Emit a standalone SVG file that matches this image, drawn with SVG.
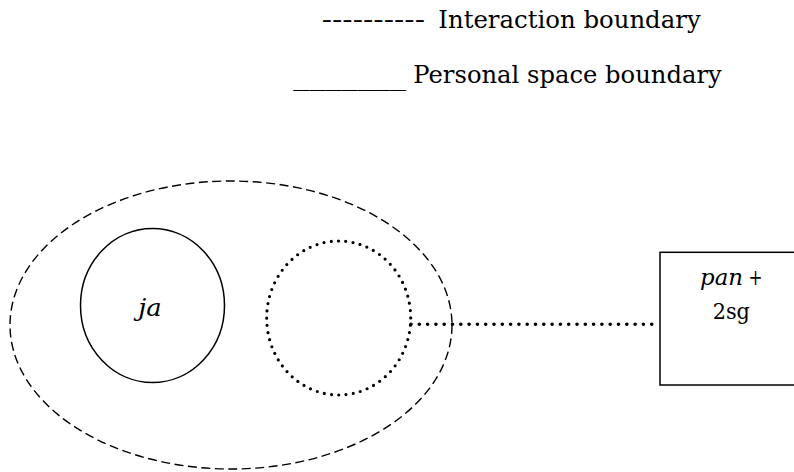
<svg xmlns="http://www.w3.org/2000/svg" width="794" height="472" viewBox="0 0 794 472">
<style>
text{font-family:'DejaVu Serif',serif;fill:#000}
.legend{font-size:25px}
.lbl{font-size:24px}
.box{font-size:22px}
.dash{fill:none;stroke:#000;stroke-width:1.4;stroke-dasharray:9 4.5}
.solid{fill:none;stroke:#000;stroke-width:1.5}
.dotc{fill:none;stroke:#000;stroke-width:3.2;stroke-linecap:round;stroke-dasharray:0 7.3}
.dotl{fill:none;stroke:#000;stroke-width:3.6;stroke-linecap:round;stroke-dasharray:0 8.3}
</style>
<rect width="794" height="472" fill="#fff"/>
<g id="legend">
<text class="legend" y="27.5"><tspan x="321.7" textLength="103.3" lengthAdjust="spacingAndGlyphs">----------</tspan><tspan x="438.3" textLength="262.4" lengthAdjust="spacingAndGlyphs">Interaction boundary</tspan></text>
<text class="legend" y="85"><tspan x="293.3" textLength="112.7" lengthAdjust="spacingAndGlyphs">_______</tspan><tspan x="413.3" y="83.3" textLength="308.4" lengthAdjust="spacingAndGlyphs">Personal space boundary</tspan></text>
</g>
<g id="interaction-boundary">
<ellipse class="dash" cx="231" cy="325" rx="221" ry="144"/>
</g>
<g id="ja">
<ellipse class="solid" cx="152.5" cy="305.5" rx="72" ry="77"/>
<text class="lbl" x="150" y="315.5" text-anchor="middle" font-style="italic" textLength="23.5" lengthAdjust="spacingAndGlyphs">ja</text>
</g>
<g id="addressee">
<ellipse class="dotc" cx="338.7" cy="318" rx="72" ry="77"/>
</g>
<g id="pan-2sg">
<rect class="solid" x="660" y="252.3" width="150" height="132.7"/>
<text class="box" y="285"><tspan x="700" font-style="italic" textLength="43" lengthAdjust="spacingAndGlyphs">pan</tspan><tspan x="748.5" textLength="14" lengthAdjust="spacingAndGlyphs">+</tspan></text>
<text class="box" x="731.3" y="319" text-anchor="middle" textLength="37.3" lengthAdjust="spacingAndGlyphs">2sg</text>
</g>
<g id="connectors">
<line class="dotl" x1="411" y1="324.3" x2="658" y2="324.3"/>
</g>
</svg>
